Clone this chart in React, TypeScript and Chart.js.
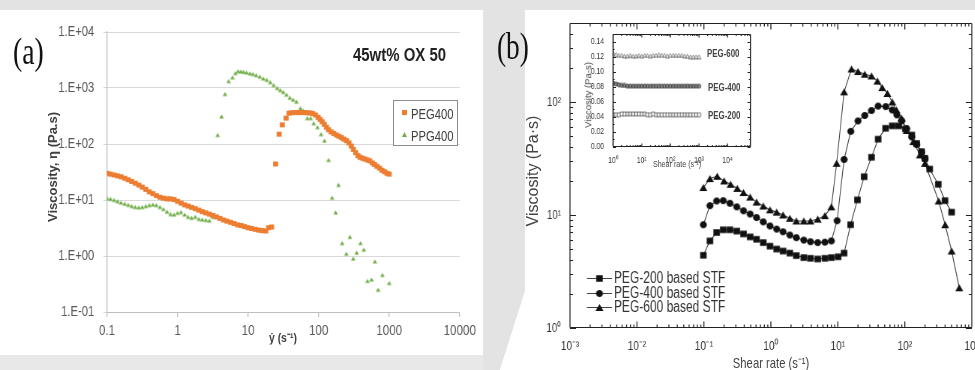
import React, { useEffect, useRef } from 'react';
import { Chart, registerables } from 'chart.js';
Chart.register(...registerables);

const SANS = "'Liberation Sans', Arial, sans-serif";
const SERIF = "'Liberation Serif', 'DejaVu Serif', serif";
// the reference figure is squeezed horizontally; canvases are drawn wider and shown at K
const K = 0.75;

// ---------- Panel (a) data ----------
const aSeriesNames = ['PEG400', 'PPG400'];
const aPegX = [0.1, 0.112, 0.126, 0.141, 0.158, 0.178, 0.2, 0.224, 0.251, 0.282,
  0.316, 0.355, 0.398, 0.447, 0.501, 0.562, 0.631, 0.708, 0.794, 0.891,
  1, 1.12, 1.26, 1.41, 1.58, 1.78, 2, 2.24, 2.51, 2.82,
  3.16, 3.55, 3.98, 4.47, 5.01, 5.62, 6.31, 7.08, 7.94, 8.91,
  10, 11.2, 12.6, 14.1, 15.8, 17.8, 19.5, 21.5,
  24.5, 27.5, 30.5, 34.5, 38, 42, 46, 51, 56, 62,
  68, 75, 82, 90, 98, 105, 112, 120, 129, 138,
  150, 163, 178, 193, 210, 228, 248, 268, 290, 310,
  335, 360, 385, 415, 450, 490, 530, 575, 620, 670,
  730, 790, 860, 930, 1000];
const aPegY = [30, 29, 28, 27, 26, 24.5, 23, 21.5, 20, 18.5,
  17, 15.5, 14, 13, 12, 11.2, 10.8, 10.5, 10.5, 10.2,
  9.5, 8.8, 8.2, 7.8, 7.4, 7, 6.6, 6.2, 5.9, 5.6,
  5.3, 5, 4.7, 4.4, 4.2, 4, 3.8, 3.6, 3.5, 3.35,
  3.2, 3.1, 3, 2.9, 2.85, 2.8, 3.2, 3.3,
  44, 150, 220, 290, 355, 362, 365, 365, 365, 365,
  362, 360, 350, 330, 300, 275, 250, 225, 200, 180,
  165, 155, 145, 138, 130, 122, 115, 105, 92, 80,
  70, 62, 58, 56, 54, 52, 50, 46, 43, 40,
  37, 34, 32, 30, 29];
const aPpgX = [0.1, 0.112, 0.126, 0.141, 0.158, 0.178, 0.2, 0.224, 0.251, 0.282,
  0.316, 0.355, 0.398, 0.447, 0.501, 0.562, 0.631, 0.708, 0.794, 0.891,
  1, 1.12, 1.26, 1.41, 1.58, 1.78, 2, 2.24, 2.51, 2.82, 3.16,
  3.7, 4.2, 4.7, 5.3, 6.0, 6.6, 7.2, 7.9, 8.6, 9.5,
  10.6, 11.7, 13, 14.6, 16.4, 18.4, 20.6, 23, 25.8, 28.5,
  31.5, 35, 39, 43.5, 48.5, 55, 60, 69, 77, 85,
  96, 108, 121, 138, 155, 174, 191,
  215, 247, 277, 309, 345, 392, 437, 492, 561, 628, 697, 800, 1000];
const aPpgY = [10.8, 10.5, 10, 9.5, 9, 8.6, 8.2, 7.8, 7.5, 7.4,
  7.5, 7.8, 8.1, 8.3, 8.1, 7.5, 6.9, 6.2, 5.6, 5.5,
  5.9, 6.1, 5.5, 5, 4.8, 5, 4.6, 4.5, 4.4, 4.3, 5,
  145, 310, 780, 1330, 1550, 1850, 2000, 1980, 1950, 1900,
  1830, 1780, 1700, 1600, 1480, 1400, 1270, 1130, 1000, 920,
  850, 760, 670, 620, 570, 435, 400, 290, 290, 235,
  200, 150, 115, 52, 11, 6, 18.6,
  1.7, 1.1, 2.2, 0.9, 1.15, 1.7, 1.3, 0.36, 0.38, 0.8, 0.25, 0.46, 0.33];
const aXTicks = [0.1, 1, 10, 100, 1000, 10000];
const aXTickLabels = ['0.1', '1', '10', '100', '1000', '10000'];
const aYTicks = [0.1, 1, 10, 100, 1000, 10000];
const aYTickLabels = ['1.E-01', '1.E+00', '1.E+01', '1.E+02', '1.E+03', '1.E+04'];

// ---------- Panel (b) data ----------
const bSeriesNames = ['PEG-200 based STF', 'PEG-400 based STF', 'PEG-600 based STF'];
const b200X = [0.098, 0.123, 0.155, 0.194, 0.245, 0.31, 0.39, 0.49, 0.61, 0.77,
  0.97, 1.22, 1.52, 1.92, 2.4, 3.1, 3.9, 5.0, 6.4, 8.0,
  10.1, 12.4, 15.5, 19.6, 24.7, 31.8, 40, 51.6, 65, 81,
  102, 127, 150, 178, 200, 235, 316, 398, 500];
const b200Y = [4.4, 5.9, 7.0, 7.4, 7.4, 7.2, 6.8, 6.4, 6.1, 5.7,
  5.3, 5.0, 4.8, 4.6, 4.37, 4.2, 4.14, 4.08, 4.14, 4.2,
  4.27, 4.6, 8.2, 13.6, 21.8, 32.4, 46.9, 58.5, 61.5, 61.5,
  57.8, 51, 43, 36.3, 31.7, 25.5, 18.7, 13.4, 10.6];
const b400X = [0.098, 0.123, 0.155, 0.194, 0.245, 0.31, 0.39, 0.49, 0.61, 0.77,
  0.97, 1.22, 1.52, 1.92, 2.4, 3.1, 3.9, 5.0, 6.4, 8.0,
  9.75, 12.4, 15.6, 20, 25.2, 31.8, 40, 52, 65, 76,
  90, 107, 127, 150, 178, 200];
const b400Y = [8.2, 12.1, 13.3, 13.4, 12.7, 11.8, 10.9, 10.2, 9.5, 8.7,
  8.0, 7.5, 7.1, 6.65, 6.3, 6.0, 5.8, 5.7, 5.75, 5.9,
  8.9, 31, 55, 68, 76, 84, 92, 91, 85, 77,
  68, 58, 49, 42, 36, 31.5];
const b600X = [0.098, 0.123, 0.158, 0.2, 0.25, 0.315, 0.39, 0.49, 0.61, 0.77,
  0.97, 1.22, 1.52, 1.92, 2.4, 3.1, 3.9, 5.0, 6.4, 8.0,
  9.6, 12.4, 16, 20, 25.2, 31.8, 39, 46, 55, 65,
  75, 89, 107, 134, 168, 200, 320, 400, 500, 650];
const b600Y = [17.5, 21, 22, 20, 18.7, 17.2, 15.8, 14.4, 13, 12,
  11.1, 10.6, 10, 9.35, 8.85, 8.85, 8.85, 9.2, 9.86, 11.8,
  28.7, 123, 196, 186, 176, 170, 153, 134, 119, 100,
  85, 72, 56, 44.7, 34, 28.6, 13.3, 8.2, 4.8, 2.27];
const bXTicks = [0.001, 0.01, 0.1, 1, 10, 100, 1000];
const bXTickLabels = ['10⁻³', '10⁻²', '10⁻¹', '10⁰', '10¹', '10²', '10³'];
const bYTicks = [1, 10, 100];
const bYTickLabels = ['10⁰', '10¹', '10²'];

// ---------- Inset data ----------
const iSeriesNames = ['PEG-600', 'PEG-400', 'PEG-200'];
const iX = [1, 1.26, 1.58, 2, 2.51, 3.16, 3.98, 5.01, 6.31, 7.94,
  10, 12.6, 15.8, 20, 25.1, 31.6, 39.8, 50.1, 63.1, 79.4,
  100, 126, 158, 200, 251, 316, 398, 501, 631, 794, 1000];
const i600 = [0.125, 0.123, 0.122, 0.122, 0.121, 0.121, 0.122, 0.121, 0.121, 0.122,
  0.121, 0.122, 0.122, 0.121, 0.122, 0.122, 0.123, 0.122, 0.122, 0.121,
  0.122, 0.122, 0.122, 0.122, 0.122, 0.121, 0.121, 0.12, 0.12, 0.12, 0.12];
const i400 = [0.085, 0.084, 0.083, 0.082, 0.082, 0.081, 0.081, 0.081, 0.081, 0.081,
  0.081, 0.081, 0.081, 0.081, 0.081, 0.081, 0.081, 0.081, 0.081, 0.081,
  0.081, 0.081, 0.081, 0.081, 0.081, 0.081, 0.081, 0.081, 0.081, 0.081, 0.081];
const i200 = [0.043, 0.043, 0.043, 0.044, 0.044, 0.044, 0.044, 0.044, 0.044, 0.044,
  0.044, 0.044, 0.043, 0.043, 0.044, 0.043, 0.043, 0.043, 0.043, 0.043,
  0.043, 0.043, 0.043, 0.043, 0.043, 0.043, 0.043, 0.043, 0.043, 0.043, 0.043];
const iYTicks = [0, 0.02, 0.04, 0.06, 0.08, 0.1, 0.12, 0.14];
const iYTickLabels = ['0.00', '0.02', '0.04', '0.06', '0.08', '0.10', '0.12', '0.14'];
const iXTicks = [1, 10, 100, 1000, 10000];
const iXTickLabels = ['10⁰', '10¹', '10²', '10³', '10⁴'];

const pts = (xs: number[], ys: number[]) => xs.map((x, i) => ({ x, y: ys[i] }));

function logMinors(lo: number, hi: number): number[] {
  const out: number[] = [];
  for (let e = Math.floor(Math.log10(lo)); e < Math.ceil(Math.log10(hi)); e++) {
    for (let m = 2; m <= 9; m++) {
      const v = m * Math.pow(10, e);
      if (v > lo && v < hi) out.push(v);
    }
  }
  return out;
}

// marker sprite: w,h in displayed pixels; drawn wider so it looks right after squeezing
function sprite(shape: string, w: number, h: number, fill: string, stroke: string | null, lw = 1): HTMLCanvasElement {
  const iw = w / K, ih = h;
  const c = document.createElement('canvas');
  c.width = Math.ceil(iw + 2);
  c.height = Math.ceil(ih + 2);
  const g = c.getContext('2d')!;
  const ox = (c.width - iw) / 2, oy = (c.height - ih) / 2;
  g.beginPath();
  if (shape === 'rect') g.rect(ox, oy, iw, ih);
  else if (shape === 'circle') g.ellipse(ox + iw / 2, oy + ih / 2, iw / 2, ih / 2, 0, 0, Math.PI * 2);
  else { g.moveTo(ox + iw / 2, oy); g.lineTo(ox + iw, oy + ih); g.lineTo(ox, oy + ih); g.closePath(); }
  g.fillStyle = fill;
  g.fill();
  if (stroke) { g.strokeStyle = stroke; g.lineWidth = lw; g.stroke(); }
  return c;
}

function framePlugin(xMajor: number[], xMinor: number[], yMajor: number[], yMinor: number[], major: number, minor: number) {
  return {
    id: 'frame',
    afterDraw(chart: any) {
      const { ctx, chartArea } = chart;
      const { left, right, top, bottom } = chartArea;
      const xs = chart.scales.x, ys = chart.scales.y;
      ctx.save();
      ctx.strokeStyle = '#222';
      const L = left, R = right, T = Math.round(top) + 0.5, B = Math.round(bottom) - 0.5;
      ctx.lineWidth = 1;
      ctx.beginPath();
      ctx.moveTo(L, T); ctx.lineTo(R, T);
      ctx.moveTo(L, B); ctx.lineTo(R, B);
      const hy = (v: number, len: number) => {
        const p = Math.round(ys.getPixelForValue(v)) + 0.5;
        if (p < T - 1 || p > B + 1) return;
        ctx.moveTo(L, p); ctx.lineTo(L + len / K, p);
        ctx.moveTo(R, p); ctx.lineTo(R - len / K, p);
      };
      yMajor.forEach(v => hy(v, major));
      yMinor.forEach(v => hy(v, minor));
      ctx.stroke();
      ctx.lineWidth = 1 / K;
      ctx.beginPath();
      ctx.moveTo(L, T); ctx.lineTo(L, B);
      ctx.moveTo(R, T); ctx.lineTo(R, B);
      const vx = (v: number, len: number) => {
        const p = xs.getPixelForValue(v);
        if (p < L - 1 || p > R + 1) return;
        ctx.moveTo(p, B); ctx.lineTo(p, B - len);
        ctx.moveTo(p, T); ctx.lineTo(p, T + len);
      };
      xMajor.forEach(v => vx(v, major));
      xMinor.forEach(v => vx(v, minor));
      ctx.stroke();
      ctx.restore();
    },
  };
}

export default function App() {
  const aRef = useRef<HTMLCanvasElement>(null);
  const bRef = useRef<HTMLCanvasElement>(null);
  const iRef = useRef<HTMLCanvasElement>(null);

  useEffect(() => {
    const charts: Chart[] = [];
    const aSq = sprite('rect', 5, 5, '#ED7D31', null);
    const aTri = sprite('triangle', 4.6, 4.2, '#70AD47', null);

    // Panel (a)
    charts.push(new Chart(aRef.current!, {
      type: 'scatter',
      data: {
        datasets: [
          { label: aSeriesNames[0], data: pts(aPegX, aPegY), pointStyle: aSq, pointRadius: 3 },
          { label: aSeriesNames[1], data: pts(aPpgX, aPpgY), pointStyle: aTri, pointRadius: 3 },
        ],
      },
      options: {
        animation: false, responsive: false, events: [],
        layout: { padding: { top: 22, right: 31, left: 0, bottom: 0 } },
        plugins: { legend: { display: false }, tooltip: { enabled: false } },
        scales: {
          x: {
            type: 'logarithmic', min: 0.1, max: 10000,
            afterBuildTicks: (s: any) => { s.ticks = aXTicks.map(v => ({ value: v })); },
            afterFit: (s: any) => { s.height = 43; },
            ticks: { callback: (_v: any, i: number) => aXTickLabels[i], color: '#595959', font: { family: SANS, size: 15.5 }, padding: 4, autoSkip: false, maxRotation: 0 },
            grid: { drawOnChartArea: false, drawTicks: true, tickLength: 5, color: '#bfbfbf', lineWidth: 1 / K },
            border: { color: '#bfbfbf' },
          },
          y: {
            type: 'logarithmic', min: 0.1, max: 10000,
            afterBuildTicks: (s: any) => { s.ticks = aYTicks.map(v => ({ value: v })); },
            afterFit: (s: any) => { s.width = 107 / K; },
            ticks: { callback: (_v: any, i: number) => aYTickLabels[i], color: '#595959', font: { family: SANS, size: 15 }, padding: 12, autoSkip: false },
            grid: { color: '#d9d9d9', tickLength: 5 },
            border: { color: '#bfbfbf', width: 1 / K },
          },
        },
      } as any,
    }));

    // Panel (b)
    const bSq = sprite('rect', 6.5, 6.5, '#111', null);
    const bCi = sprite('circle', 7, 7, '#111', null);
    const bTr = sprite('triangle', 8, 7, '#111', null);
    const lineDs = (label: string, xs: number[], ys: number[], img: HTMLCanvasElement) => ({
      label, data: pts(xs, ys), showLine: true, borderColor: '#444', borderWidth: 1.1,
      pointStyle: img, pointRadius: 3,
    });
    const bLegendPlugin = {
      id: 'bLegend',
      afterDraw(chart: any) {
        const ctx = chart.ctx as CanvasRenderingContext2D;
        const imgs = [bSq, bCi, bTr];
        const rows = [268, 283, 297];
        ctx.save();
        bSeriesNames.forEach((name, i) => {
          const y = rows[i];
          ctx.strokeStyle = '#444';
          ctx.lineWidth = 1.1;
          ctx.beginPath();
          ctx.moveTo(62 / K, y + 0.5);
          ctx.lineTo(87 / K, y + 0.5);
          ctx.stroke();
          const im = imgs[i];
          ctx.drawImage(im, 74.5 / K - im.width / 2, y + 0.5 - im.height / 2);
          ctx.fillStyle = '#333';
          ctx.font = `16px ${SANS}`;
          ctx.textBaseline = 'middle';
          ctx.fillText(name, 89 / K, y + 1);
        });
        ctx.restore();
      },
    };
    charts.push(new Chart(bRef.current!, {
      type: 'scatter',
      data: {
        datasets: [
          lineDs(bSeriesNames[0], b200X, b200Y, bSq),
          lineDs(bSeriesNames[1], b400X, b400Y, bCi),
          lineDs(bSeriesNames[2], b600X, b600Y, bTr),
        ],
      },
      options: {
        animation: false, responsive: false, events: [],
        layout: { padding: { top: 13, right: 627 - 447 / K, left: 0, bottom: 0 } },
        plugins: { legend: { display: false }, tooltip: { enabled: false } },
        scales: {
          x: {
            type: 'logarithmic', min: 0.001, max: 1000,
            afterBuildTicks: (s: any) => { s.ticks = bXTicks.map(v => ({ value: v })); },
            afterFit: (s: any) => { s.height = 42; },
            ticks: { callback: (_v: any, i: number) => bXTickLabels[i], color: '#333', font: { family: SANS, size: 13.5 }, padding: 2, autoSkip: false, maxRotation: 0 },
            grid: { display: false }, border: { display: false },
          },
          y: {
            type: 'logarithmic', min: 1, max: 500,
            afterBuildTicks: (s: any) => { s.ticks = bYTicks.map(v => ({ value: v })); },
            afterFit: (s: any) => { s.width = 45 / K; },
            ticks: { callback: (_v: any, i: number) => bYTickLabels[i], color: '#333', font: { family: SANS, size: 13 }, padding: 4, autoSkip: false },
            grid: { display: false }, border: { display: false },
          },
        },
      } as any,
      plugins: [framePlugin(bXTicks, logMinors(0.001, 1000), bYTicks, logMinors(1, 500), 6, 3), bLegendPlugin],
    }));

    // Inset
    const iTr = sprite('triangle', 4.2, 3.8, 'rgba(255,255,255,0.5)', '#666', 0.9);
    const iCi = sprite('circle', 4, 4, 'rgba(90,90,90,0.7)', '#444', 0.9);
    const iSq = sprite('rect', 3.4, 3.8, 'rgba(255,255,255,0.5)', '#666', 0.9);
    const openDs = (label: string, ys: number[], img: HTMLCanvasElement) => ({
      label, data: pts(iX, ys), showLine: false, pointStyle: img, pointRadius: 2,
    });
    charts.push(new Chart(iRef.current!, {
      type: 'scatter',
      data: {
        datasets: [
          openDs(iSeriesNames[0], i600, iTr),
          openDs(iSeriesNames[1], i400, iCi),
          openDs(iSeriesNames[2], i200, iSq),
        ],
      },
      options: {
        animation: false, responsive: false, events: [],
        layout: { padding: { top: 5, right: 254 - 170 / K, left: 0, bottom: 0 } },
        plugins: { legend: { display: false }, tooltip: { enabled: false } },
        scales: {
          x: {
            type: 'logarithmic', min: 1, max: 63000,
            afterBuildTicks: (s: any) => { s.ticks = iXTicks.map(v => ({ value: v })); },
            afterFit: (s: any) => { s.height = 28; },
            ticks: { callback: (_v: any, i: number) => iXTickLabels[i], color: '#333', font: { family: SANS, size: 9 }, padding: 0, autoSkip: false, maxRotation: 0 },
            grid: { display: false }, border: { display: false },
          },
          y: {
            type: 'linear', min: 0, max: 0.15,
            afterBuildTicks: (s: any) => { s.ticks = iYTicks.map(v => ({ value: v })); },
            afterFit: (s: any) => { s.width = 33 / K; },
            ticks: { callback: (_v: any, i: number) => iYTickLabels[i], color: '#333', font: { family: SANS, size: 9 }, padding: 4, autoSkip: false },
            grid: { display: false }, border: { display: false },
          },
        },
      } as any,
      plugins: [framePlugin(iXTicks, logMinors(1, 63000), iYTicks, [0.01, 0.03, 0.05, 0.07, 0.09, 0.11, 0.13], 3, 1.5)],
    }));

    return () => charts.forEach(c => c.destroy());
  }, []);

  const abs = (extra: React.CSSProperties): React.CSSProperties => ({
    position: 'absolute', whiteSpace: 'nowrap', lineHeight: 1, margin: 0, ...extra,
  });
  const squeeze = { transform: `scaleX(${K})`, transformOrigin: 'left top' };
  const gray = '#e3e3e3';
  return (
    <div style={{ position: 'fixed', left: 0, top: 0, width: 975, height: 370, overflow: 'hidden', background: '#fff', fontFamily: SANS }}>
      {/* background watermark bands */}
      <div style={{ position: 'absolute', left: 0, top: 0, width: 975, height: 10, background: gray }} />
      <div style={{ position: 'absolute', left: 483, top: 10, width: 42, height: 360, background: gray, clipPath: 'polygon(0 0, 100% 0, 100% 78%, 40% 100%, 0 100%)' }} />
      <div style={{ position: 'absolute', left: 0, top: 355, width: 483, height: 15, background: '#e8e8e8' }} />

      {/* panel a */}
      <canvas ref={aRef} width={644} height={345} style={{ position: 'absolute', left: 0, top: 10, width: 644 * K, height: 345 }} />
      <div style={abs({ left: 13, top: 33, fontFamily: SERIF, fontSize: 37, color: '#111', ...squeeze })}>(a)</div>
      <div style={abs({ left: 353, top: 46, fontWeight: 'bold', fontSize: 18, color: '#222', transform: 'scaleX(0.83)', transformOrigin: 'left top' })}>45wt% OX 50</div>
      <div style={abs({ left: 52, top: 167, fontWeight: 'bold', fontSize: 13, color: '#404040', transform: 'translate(-50%,-50%) rotate(-90deg)' })}>Viscosity, η (Pa.s)</div>
      <div style={abs({ left: 283, top: 337, fontWeight: 'bold', fontSize: 13, color: '#404040', transform: 'translate(-50%,-50%) scaleX(0.8)' })}>ẏ (s⁻¹)</div>
      <div style={{ position: 'absolute', left: 393, top: 100, width: 63, height: 44, border: '1px solid #8c8c8c', background: '#fff' }}>
        <div style={{ position: 'absolute', left: 8, top: 9, width: 5, height: 5, background: '#ED7D31' }} />
        <div style={abs({ left: 17, top: 5, fontSize: 15, color: '#404040', ...squeeze })}>{aSeriesNames[0]}</div>
        <div style={{ position: 'absolute', left: 8, top: 31, width: 5, height: 5, background: '#70AD47', clipPath: 'polygon(50% 0, 100% 100%, 0 100%)' }} />
        <div style={abs({ left: 17, top: 27, fontSize: 15, color: '#404040', ...squeeze })}>{aSeriesNames[1]}</div>
      </div>

      {/* panel b */}
      <canvas ref={bRef} width={627} height={360} style={{ position: 'absolute', left: 525, top: 10, width: 627 * K, height: 360 }} />
      <div style={abs({ left: 497, top: 27, fontFamily: SERIF, fontSize: 38, color: '#111', transform: 'scaleX(0.72)', transformOrigin: 'left top' })}>(b)</div>
      <div style={abs({ left: 533, top: 171, fontSize: 16, color: '#444', transform: 'translate(-50%,-50%) rotate(-90deg)' })}>Viscosity (Pa·s)</div>
      <div style={abs({ left: 771, top: 362, fontSize: 15, color: '#444', transform: `translate(-50%,-50%) scaleX(${K})` })}>Shear rate (s⁻¹)</div>

      {/* inset */}
      <canvas ref={iRef} width={254} height={150} style={{ position: 'absolute', left: 580, top: 25, width: 254 * K, height: 150 }} />
      <div style={abs({ left: 588, top: 95, fontSize: 9.5, color: '#444', transform: 'translate(-50%,-50%) rotate(-90deg)' })}>Viscosity (Pa-s)</div>
      <div style={abs({ left: 677, top: 164, fontSize: 9.5, color: '#444', transform: `translate(-50%,-50%) scaleX(${K})` })}>Shear rate (s⁻¹)</div>
      <div style={abs({ left: 707, top: 48, fontSize: 10.5, fontWeight: 'bold', color: '#444', ...squeeze })}>{iSeriesNames[0]}</div>
      <div style={abs({ left: 708, top: 82, fontSize: 10.5, fontWeight: 'bold', color: '#444', ...squeeze })}>{iSeriesNames[1]}</div>
      <div style={abs({ left: 708, top: 110, fontSize: 10.5, fontWeight: 'bold', color: '#444', ...squeeze })}>{iSeriesNames[2]}</div>
    </div>
  );
}
